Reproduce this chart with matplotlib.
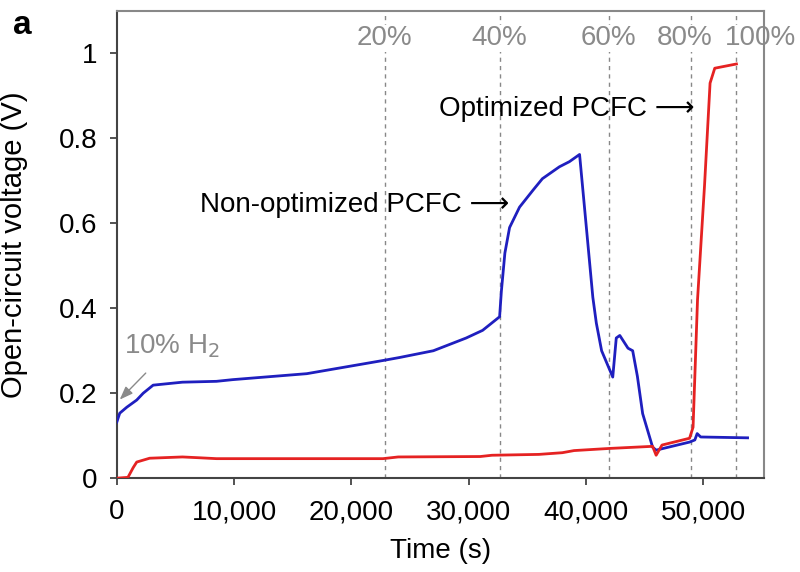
import matplotlib
matplotlib.use('Agg')
import matplotlib.pyplot as plt
from matplotlib.ticker import FuncFormatter

plt.rcParams['font.family'] = ['Liberation Sans', 'DejaVu Sans']

# non-optimized PCFC (blue)
t_blue = [0, 250, 850, 1700, 2250, 3100, 5600, 8500, 9900, 16200, 22700, 24100,
          27000, 29800, 31200, 32650, 32800, 33100, 33500, 34350, 35500, 36300,
          37750, 38600, 39470, 40070, 40600, 40900, 41350, 42300, 42600, 42900,
          43600, 44000, 44400, 44850, 45700, 46000, 48850, 49300, 49500, 49800, 53800]
v_blue = [0.132, 0.153, 0.167, 0.184, 0.2, 0.219, 0.226, 0.228, 0.232, 0.246, 0.277, 0.284,
          0.30, 0.33, 0.348, 0.38, 0.44, 0.53, 0.59, 0.638, 0.678, 0.705,
          0.733, 0.745, 0.762, 0.584, 0.426, 0.365, 0.30, 0.238, 0.33, 0.336,
          0.306, 0.30, 0.24, 0.152, 0.073, 0.066, 0.085, 0.09, 0.105, 0.097, 0.095]

# optimized PCFC (red)
t_red = [0, 950, 1400, 1700, 2800, 5600, 7100, 8500, 22700, 24000, 31000, 32000,
         36000, 38000, 39000, 42000, 45700, 46000, 46500, 48850, 49150, 49530,
         50130, 50600, 51000, 52850]
v_red = [0, 0.002, 0.025, 0.038, 0.047, 0.05, 0.048, 0.046, 0.046, 0.05, 0.051, 0.054,
         0.056, 0.06, 0.065, 0.07, 0.075, 0.054, 0.078, 0.094, 0.12, 0.42,
         0.69, 0.93, 0.965, 0.975]

# H2 switching times and labels
t_switch = [22850, 32650, 41950, 49000, 52850]
switch_labels = ['20%', '40%', '60%', '80%', '100%']
# label anchors (80% and 100% pushed apart so they don't collide)
label_x = [22850, 32650, 41950, 50800, 51850]
label_ha = ['center', 'center', 'center', 'right', 'left']

FS = 20

fig = plt.figure(figsize=(8, 5.72), dpi=100)
ax = fig.add_axes([0.146, 0.164, 0.809, 0.817])

for t in t_switch:
    ax.axvline(t, color='#888888', ls=(0, (3, 3)), lw=1.0, zorder=1)
for lx, lab, ha in zip(label_x, switch_labels, label_ha):
    ax.text(lx, 1.035, lab, ha=ha, va='center', fontsize=FS, color='#8a8a8a',
            bbox=dict(facecolor='white', edgecolor='none', pad=0.3), clip_on=False, zorder=2)

ax.plot(t_blue, v_blue, color='#1f1fbf', lw=2.0, zorder=3)
ax.plot(t_red, v_red, color='#e52222', lw=2.0, zorder=4)

ax.text(33500, 0.642, 'Non-optimized PCFC \u27f6', ha='right', va='center', fontsize=FS)
ax.text(49300, 0.87, 'Optimized PCFC \u27f6', ha='right', va='center', fontsize=FS)

ax.annotate('10% H$_2$', xy=(250, 0.185), xytext=(600, 0.31), fontsize=FS, color='#8a8a8a',
            ha='left', va='center',
            arrowprops=dict(arrowstyle='-|>,head_length=0.4,head_width=0.15', color='#8a8a8a',
                            lw=1.0, shrinkA=10, shrinkB=0))

ax.set_xlim(0, 55200)
ax.set_ylim(0, 1.1)
ax.set_xticks([0, 10000, 20000, 30000, 40000, 50000])
ax.set_yticks([0, 0.2, 0.4, 0.6, 0.8, 1.0])
ax.xaxis.set_major_formatter(FuncFormatter(lambda x, p: f'{int(x):,}'))
ax.yaxis.set_major_formatter(FuncFormatter(lambda y, p: '0' if y == 0 else ('1' if y == 1 else f'{y:.1f}')))
ax.tick_params(labelsize=FS, direction='out', length=5, width=1.3, color='#444444')
ax.tick_params(axis='x', pad=10)
ax.tick_params(axis='y', pad=9)

for s in ['left', 'bottom']:
    ax.spines[s].set_color('#444444')
    ax.spines[s].set_linewidth(1.5)
for s in ['top', 'right']:
    ax.spines[s].set_color('#888888')
    ax.spines[s].set_linewidth(1.5)

ax.set_xlabel('Time (s)', fontsize=FS, labelpad=9)
ax.set_ylabel('Open-circuit voltage (V)', fontsize=21, labelpad=22)

fig.text(0.016, 0.956, 'a', fontsize=24, fontweight='bold', va='center')

fig.savefig('out.png', dpi=100)
